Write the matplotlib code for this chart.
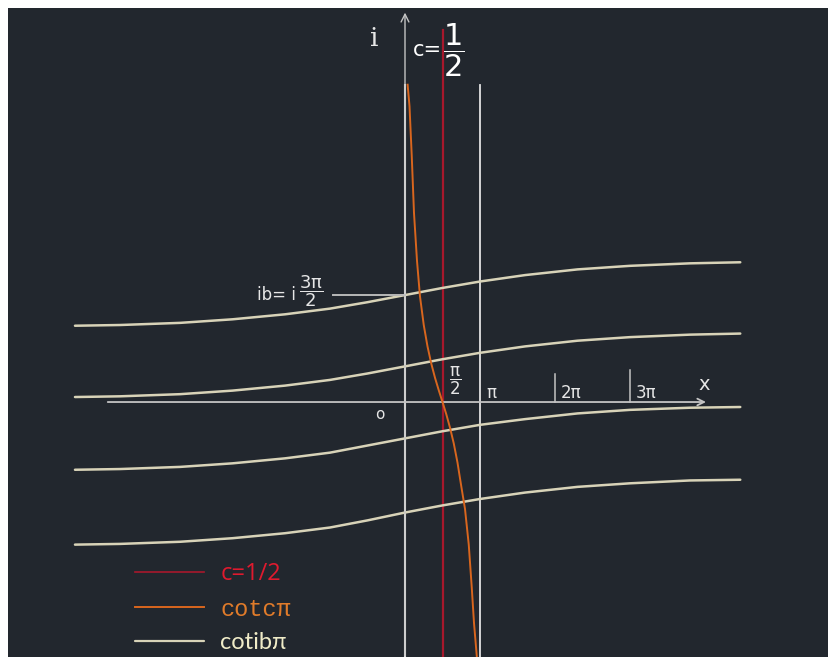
import matplotlib.pyplot as plt

plt.rcParams['mathtext.fontset'] = 'dejavusans'

# x in units of pi, y in units of b (i*b*pi)
c_half = 0.5
pi_line = 1.0
tick_pos = [2.0, 3.0]
tick_top = [0.39, 0.45]
tick_labels = [(1.0, 'π'), (2.0, '2π'), (3.0, '3π')]

# cot(c*pi)
cot_x = [0.035, 0.06, 0.09, 0.12, 0.16, 0.20, 0.25, 0.30, 0.35, 0.40, 0.45, 0.50,
         0.55, 0.60, 0.65, 0.70, 0.75, 0.80, 0.85, 0.89, 0.92, 0.96]
cot_y = [4.45, 4.15, 3.45, 2.65, 1.98, 1.48, 1.08, 0.78, 0.54, 0.34, 0.165, 0.0,
         -0.17, -0.36, -0.58, -0.85, -1.18, -1.50, -2.00, -2.60, -3.10, -3.60]

# cot(i b pi) family, four curves
ib_x = [-4.4, -3.8, -3.0, -2.3, -1.6, -1.0, -0.5, 0.0, 0.5, 1.0, 1.6, 2.3, 3.0, 3.8, 4.47]
ib_y1 = [1.07, 1.08, 1.11, 1.16, 1.23, 1.31, 1.40, 1.50, 1.60, 1.69, 1.78, 1.86, 1.91, 1.945, 1.96]
ib_y2 = [0.07, 0.08, 0.11, 0.16, 0.23, 0.31, 0.40, 0.50, 0.60, 0.69, 0.78, 0.86, 0.91, 0.945, 0.96]
ib_y3 = [-0.95, -0.94, -0.91, -0.86, -0.79, -0.71, -0.61, -0.51, -0.41, -0.32, -0.24, -0.16, -0.11, -0.08, -0.07]
ib_y4 = [-2.00, -1.99, -1.96, -1.91, -1.84, -1.76, -1.66, -1.55, -1.45, -1.36, -1.27, -1.19, -1.14, -1.10, -1.09]

bg = '#22272e'
axis_col = '#c4c4c4'
white = '#e2e2e2'
red = '#a8182c'
orange = '#d9661e'
beige = '#d8d3b8'

fig = plt.figure(figsize=(8.29, 6.57), dpi=100, facecolor='white')
ax = fig.add_axes([8 / 829, 0, 821 / 829, 649 / 657])
ax.set_facecolor(bg)
ax.set_xlim(-5.293, 5.653)
ax.set_ylim(-3.576, 5.526)
for s in ax.spines.values():
    s.set_visible(False)
ax.set_xticks([])
ax.set_yticks([])

# axes with arrows
ax.annotate('', xy=(4.05, 0), xytext=(-4.0, 0),
            arrowprops=dict(arrowstyle='->', color=axis_col, lw=1.3, mutation_scale=12))
ax.annotate('', xy=(0, 5.5), xytext=(0, -3.6),
            arrowprops=dict(arrowstyle='->', color=axis_col, lw=1.0, mutation_scale=14))
ax.plot([0, 0], [-3.6, 4.45], color=white, lw=1.5)
ax.plot([pi_line, pi_line], [-3.6, 4.45], color=white, lw=1.3)
for xp, top in zip(tick_pos, tick_top):
    ax.plot([xp, xp], [0, top], color=axis_col, lw=1.1)

red_line, = ax.plot([c_half, c_half], [-3.6, 5.22], color=red, lw=1.6, label='c=1/2')
ib_lines = []
for ys in [ib_y1, ib_y2, ib_y3, ib_y4]:
    ln, = ax.plot(ib_x, ys, color=beige, lw=1.8, solid_capstyle='round', label='cotibπ')
    ib_lines.append(ln)
cot_line, = ax.plot(cot_x, cot_y, color=orange, lw=1.4, label='cotcπ', zorder=4)

# leader for ib = i 3pi/2
ax.plot([-0.96, 0], [1.5, 1.5], color='#b8b8b8', lw=1.4)

txt = '#e6e6e6'
ax.text(-0.413, 5.10, 'i', color=txt, fontsize=19, family='DejaVu Serif',
        ha='center', va='center')
ax.text(0.49, 4.94, 'c=', color='white', fontsize=15, ha='right', va='center')
ax.text(0.645, 4.94, r'$\dfrac{1}{2}$', color='white', fontsize=22,
        ha='center', va='center')
ax.text(0.667, 0.29, r'$\dfrac{\mathrm{π}}{2}$', color=txt, fontsize=12, ha='center', va='center')
for xp, lab in tick_labels:
    ax.text(xp + 0.08, 0.0, lab, color=txt, fontsize=12, ha='left', va='bottom')
ax.text(3.987, 0.25, 'x', color=txt, fontsize=14, ha='center', va='center')
ax.text(-0.333, -0.18, 'o', color=txt, fontsize=11, ha='center', va='center')
ax.text(-1.45, 1.5, 'ib= i', color=txt, fontsize=12, ha='right', va='center')
ax.text(-1.25, 1.55, r'$\dfrac{3\mathrm{π}}{2}$', color=txt, fontsize=13, ha='center', va='center')

leg = ax.legend(handles=[red_line, cot_line, ib_lines[0]], loc='lower left',
                bbox_to_anchor=(0.135, -0.02), frameon=False, fontsize=17,
                handlelength=2.9, handletextpad=0.7, labelspacing=0.5, borderpad=0.2)
for t, col, fam in zip(leg.get_texts(), ['#e01a2e', '#e07b2a', '#f0ecc8'],
                       ['Open Sans', 'Liberation Mono', 'Lato']):
    t.set_color(col)
    t.set_fontfamily(fam)
for h, lw in zip(leg.legend_handles, [1.2, 1.4, 1.6]):
    h.set_linewidth(lw)

fig.savefig('out.png', dpi=100, facecolor='white')
